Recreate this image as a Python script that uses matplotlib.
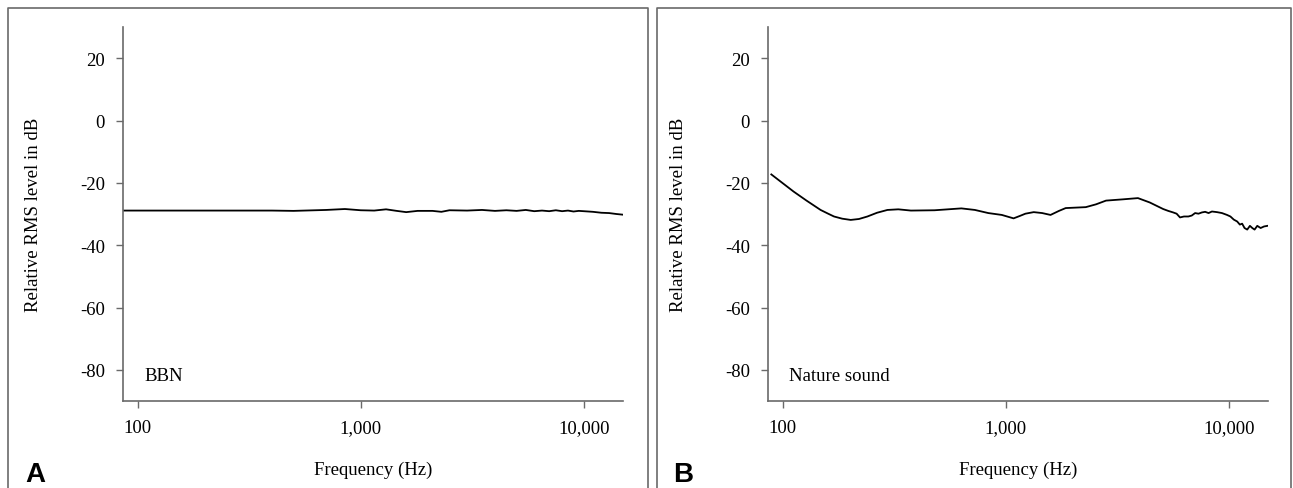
import numpy as np
import matplotlib
matplotlib.use('Agg')
import matplotlib.pyplot as plt
from matplotlib.lines import Line2D
from matplotlib.ticker import FixedLocator, FuncFormatter, NullLocator

# BBN spectrum (Hz, dB)
bbn_freq = [86, 200, 400, 500, 700, 850, 1000, 1150, 1300, 1450, 1600, 1800, 2100,
            2300, 2500, 3000, 3500, 4000, 4500, 5000, 5500, 6000, 6500, 7000, 7500,
            8000, 8500, 9000, 9500, 10000, 11000, 12000, 13000, 14000, 14900]
bbn_level = [-28.9, -28.9, -28.9, -29.0, -28.7, -28.4, -28.8, -28.9, -28.5, -29.0, -29.4,
             -29.0, -29.0, -29.3, -28.8, -28.9, -28.7, -29.0, -28.8, -29.0, -28.7, -29.1,
             -28.9, -29.1, -28.8, -29.1, -28.9, -29.2, -29.0, -29.1, -29.3, -29.6, -29.7,
             -30.0, -30.2]

# Nature sound spectrum (Hz, dB)
nature_freq = [89, 112, 128, 148, 160, 170, 185, 202, 220, 240, 265, 295, 330, 376, 480,
               633, 728, 836, 961, 1085, 1160, 1226, 1336, 1458, 1589, 1734, 1858, 2287,
               2541, 2818, 3351, 3918, 4426, 5082, 5354, 5637, 5840, 6047, 6301, 6592,
               6826, 7068, 7318, 7579, 7841, 8121, 8409, 8859, 9327, 9827, 10176, 10537,
               10911, 11217, 11486, 11774, 12105, 12446, 12757, 13060, 13427, 13902,
               14396, 14910]
nature_level = [-17.3, -22.8, -25.7, -28.7, -29.9, -30.8, -31.5, -31.9, -31.6, -30.8,
                -29.6, -28.7, -28.5, -28.9, -28.8, -28.2, -28.7, -29.7, -30.3, -31.4,
                -30.6, -29.9, -29.4, -29.7, -30.3, -29.0, -28.1, -27.8, -26.9, -25.7,
                -25.3, -24.9, -26.3, -28.4, -29.0, -29.5, -29.9, -31.1, -30.8, -30.8,
                -30.5, -29.7, -29.9, -29.5, -29.3, -29.7, -29.2, -29.4, -29.7, -30.3,
                -30.8, -31.8, -32.4, -33.4, -33.1, -34.5, -35.0, -33.8, -34.5, -35.0,
                -33.8, -34.5, -34.0, -33.8]

xticks = [100, 1000, 10000]
yticks = [20, 0, -20, -40, -60, -80]
panels = [('A', 'BBN', bbn_freq, bbn_level), ('B', 'Nature sound', nature_freq, nature_level)]

serif = 'Liberation Serif'
gray = '#6a6a6a'

fig = plt.figure(figsize=(12.93, 4.89), dpi=100)
W, H = 1293, 489

ax_left = [123, 768]
for i, (letter, name, fx, fy) in enumerate(panels):
    ax = fig.add_axes([ax_left[i] / W, 1 - 402 / H, 500 / W, 374 / H])
    ax.plot(fx, fy, color='black', lw=1.3)
    ax.set_xscale('log')
    ax.set_xlim(86, 15000)
    ax.set_ylim(-90, 30)
    ax.xaxis.set_major_locator(FixedLocator(xticks))
    ax.xaxis.set_minor_locator(NullLocator())
    ax.xaxis.set_major_formatter(FuncFormatter(lambda v, p: f'{int(v):,}'))
    ax.set_yticks(yticks)
    ax.set_yticklabels([str(t) for t in yticks])
    for s in ['top', 'right']:
        ax.spines[s].set_visible(False)
    for s in ['left', 'bottom']:
        ax.spines[s].set_color(gray)
        ax.spines[s].set_linewidth(1.2)
    ax.tick_params(direction='out', length=5, width=1, color=gray, pad=8,
                   labelsize=13.5)
    for lab in ax.get_xticklabels() + ax.get_yticklabels():
        lab.set_family(serif)
    ax.set_ylabel('Relative RMS level in dB', fontsize=13.5, family=serif)
    ax.yaxis.set_label_coords(-0.162, 0.5)
    ax.set_xlabel('Frequency (Hz)', fontsize=13.5, family=serif, va='center')
    ax.xaxis.set_label_coords(0.5, -0.182)
    ax.text(0.042, 0.056, name, transform=ax.transAxes, fontsize=13.5, family=serif,
            ha='left', va='baseline')
    fx0 = [25, 673][i]
    fig.text(fx0 / W, 1 - 482 / H, letter, fontsize=20, fontweight='bold',
             family='Liberation Sans', ha='left', va='baseline')

# panel frames (open at the bottom)
for x0, x1 in [(8, 648), (657, 1291)]:
    xs = [x0 / W, x0 / W, x1 / W, x1 / W]
    ys = [0, 1 - 9 / H, 1 - 9 / H, 0]
    fig.add_artist(Line2D(xs, ys, color=gray, lw=1.2, transform=fig.transFigure))

fig.savefig('out.png', dpi=100)
